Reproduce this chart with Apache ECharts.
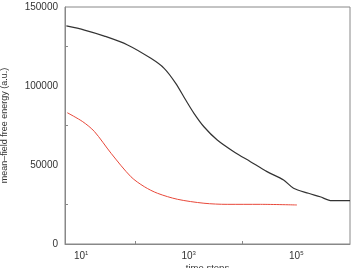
<!DOCTYPE html>
<html><head><meta charset="utf-8">
<script src="https://cdn.jsdelivr.net/npm/echarts@6/dist/echarts.min.js"></script>
<style>html,body{margin:0;padding:0;background:#fff}#c{width:355px;height:268px}</style>
</head><body><div id="c"></div>
<script>
var blackT = [5.3, 11.5, 27, 73, 198, 349, 574, 880, 1253, 1919, 3396, 6902, 14060, 28640, 58210, 89130, 169000, 278000, 458000, 1000000];
var blackE = [138000, 135400, 131600, 126000, 117500, 111200, 101700, 91100, 82700, 74200, 65800, 58400, 52100, 45800, 40500, 35300, 32100, 29900, 27400, 27400];
var redT = [5.5, 10.7, 17.6, 36, 84, 149, 263, 618, 1919, 5200, 21550, 103000];
var redE = [83100, 77400, 71200, 57400, 42600, 36300, 32100, 28300, 25800, 25100, 25100, 24700];
var xLabelVals = [10, 1000, 100000];
var xTickVals = [100, 10000];
var yLabelVals = [0, 50000, 100000, 150000];
var yTickVals = [25000, 75000, 125000];
function pairs(a, b) { return a.map(function (v, i) { return [v, b[i]]; }); }
var chart = echarts.init(document.getElementById('c'));
var font = 'Liberation Sans';
chart.setOption({
  animation: false,
  grid: {left: 65, right: 5, top: 7, bottom: 24, show: true, borderColor: '#888', borderWidth: 1,
         containLabel: false, outerBoundsMode: 'none'},
  xAxis: {
    type: 'log', logBase: 10, min: 5, max: 1000000,
    name: 'time steps', nameLocation: 'middle', nameGap: 19, nameMoveOverlap: false,
    nameTextStyle: {fontFamily: font, fontSize: 9.5, color: '#333'},
    axisLine: {lineStyle: {color: '#888'}},
    axisTick: {inside: true, length: 3, customValues: xTickVals, lineStyle: {color: '#888'}},
    splitLine: {show: false},
    axisLabel: {
      fontFamily: font, fontSize: 10, color: '#333', margin: 6,
      customValues: xLabelVals,
      formatter: function (v) {
        var e = Math.round(Math.log(v) / Math.LN10);
        return '10{s|' + e + '}';
      },
      rich: {s: {fontSize: 6, verticalAlign: 'top', padding: [0, 0, 6, 0], fontFamily: font, color: '#333'}}
    }
  },
  yAxis: {
    type: 'value', min: 0, max: 150000, interval: 25000,
    name: 'mean\u2013field free energy (a.u.)', nameLocation: 'middle', nameGap: 56, nameMoveOverlap: false,
    nameTextStyle: {fontFamily: font, fontSize: 9, color: '#333'},
    axisLine: {show: true, lineStyle: {color: '#888'}},
    axisTick: {inside: true, length: 3, customValues: yTickVals, lineStyle: {color: '#888'}},
    splitLine: {show: false},
    axisLabel: {
      fontFamily: font, fontSize: 10, color: '#333', margin: 7,
      customValues: yLabelVals,
      formatter: function (v) { return String(v); }
    }
  },
  series: [
    {type: 'line', data: pairs(blackT, blackE), smooth: 0.3, showSymbol: false,
     lineStyle: {color: '#333', width: 1.2}},
    {type: 'line', data: pairs(redT, redE), smooth: 0.3, showSymbol: false,
     lineStyle: {color: '#e8483a', width: 1}}
  ]
});
</script></body></html>
